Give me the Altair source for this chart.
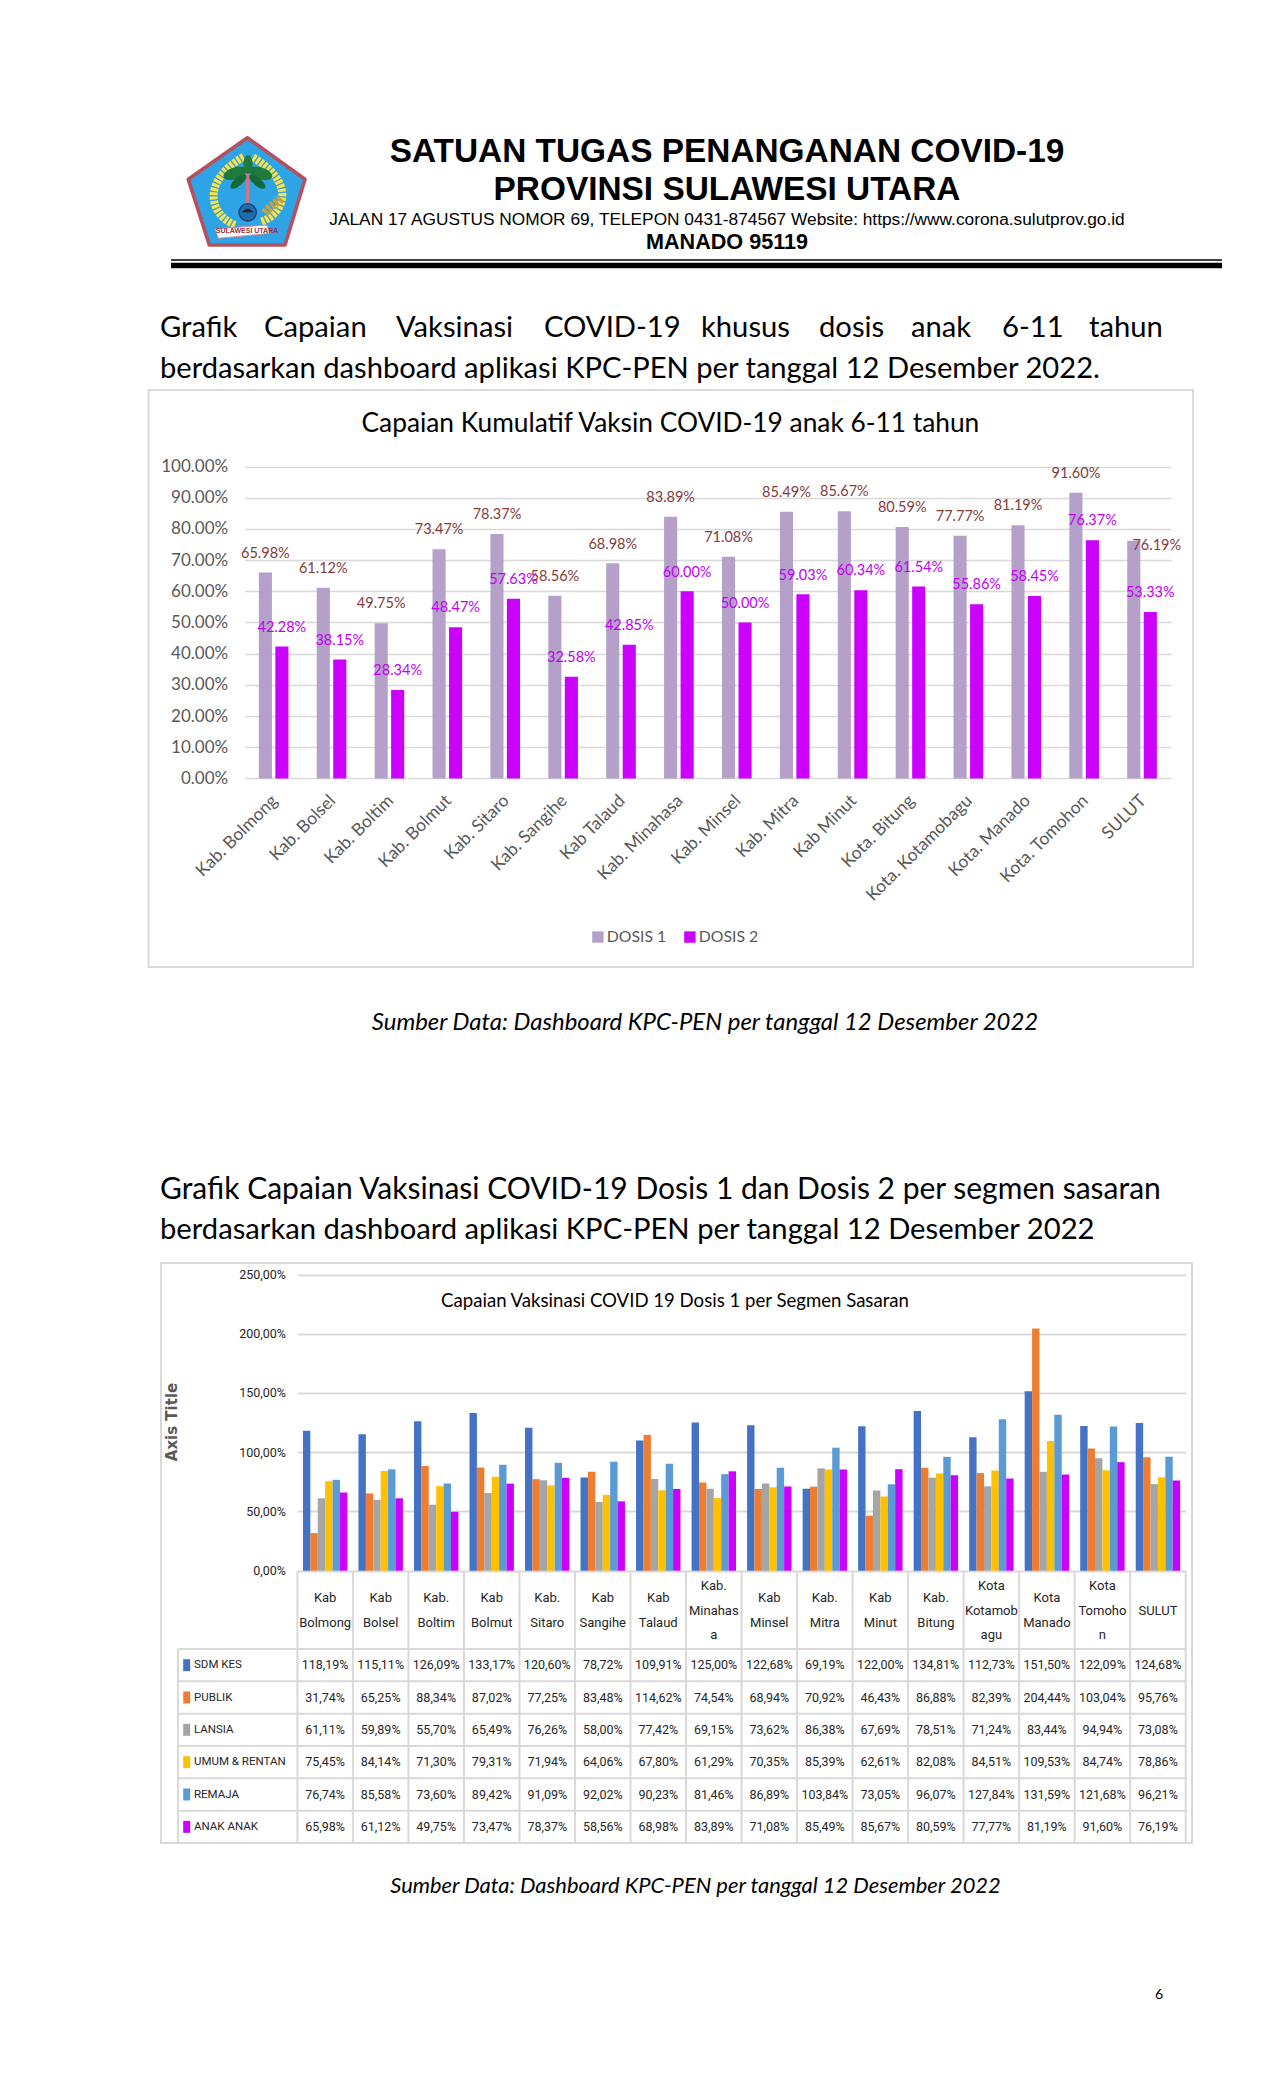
import urllib.parse
import altair as alt
import pandas as pd

# ---------- data ----------
CITIES = ["Kab. Bolmong","Kab. Bolsel","Kab. Boltim","Kab. Bolmut","Kab. Sitaro","Kab. Sangihe","Kab Talaud","Kab. Minahasa","Kab. Minsel","Kab. Mitra","Kab Minut","Kota. Bitung","Kota. Kotamobagu","Kota. Manado","Kota. Tomohon","SULUT"]
DOSIS1 = [65.98,61.12,49.75,73.47,78.37,58.56,68.98,83.89,71.08,85.49,85.67,80.59,77.77,81.19,91.60,76.19]
DOSIS2 = [42.28,38.15,28.34,48.47,57.63,32.58,42.85,60.00,50.00,59.03,60.34,61.54,55.86,58.45,76.37,53.33]

HEADERS = ["Kab\nBolmong","Kab\nBolsel","Kab.\nBoltim","Kab\nBolmut","Kab.\nSitaro","Kab\nSangihe","Kab\nTalaud","Kab.\nMinahas\na","Kab\nMinsel","Kab.\nMitra","Kab\nMinut","Kab.\nBitung","Kota\nKotamob\nagu","Kota\nManado","Kota\nTomoho\nn","SULUT"]
SEGMENTS = ["SDM KES","PUBLIK","LANSIA","UMUM & RENTAN","REMAJA","ANAK ANAK"]
SDM = [118.19,115.11,126.09,133.17,120.60,78.72,109.91,125.00,122.68,69.19,122.00,134.81,112.73,151.50,122.09,124.68]
PUBLIK = [31.74,65.25,88.34,87.02,77.25,83.48,114.62,74.54,68.94,70.92,46.43,86.88,82.39,204.44,103.04,95.76]
LANSIA = [61.11,59.89,55.70,65.49,76.26,58.00,77.42,69.15,73.62,86.38,67.69,78.51,71.24,83.44,94.94,73.08]
UMUM = [75.45,84.14,71.30,79.31,71.94,64.06,67.80,61.29,70.35,85.39,62.61,82.08,84.51,109.53,84.74,78.86]
REMAJA = [76.74,85.58,73.60,89.42,91.09,92.02,90.23,81.46,86.89,103.84,73.05,96.07,127.84,131.59,121.68,96.21]
ANAK = [65.98,61.12,49.75,73.47,78.37,58.56,68.98,83.89,71.08,85.49,85.67,80.59,77.77,81.19,91.60,76.19]
SEG_COLORS = ["#4472C4","#ED7D31","#A5A5A5","#FFC000","#5B9BD5","#CC00FF"]

W = 1259
BODY = "Lato"
NARROW = "Roboto"
HEAD = "Liberation Sans"
GRID = "#d9d9d9"
BLANK = alt.Data(values=[{"a": 1}])


def txt(s, x, y, size, font=BODY, color="#000000", align="center", weight="normal", style="normal", angle=0):
    kw = dict(angle=angle) if angle else {}
    return alt.Chart(BLANK).mark_text(text=s, font=font, fontSize=size, color=color, align=align, baseline="middle",
                                      fontWeight=weight, fontStyle=style, **kw).encode(x=alt.value(x), y=alt.value(y))


def frame(x0, x1, y0, y1):
    return alt.Chart(BLANK).mark_rect(fill="#ffffff", fillOpacity=0, stroke=GRID, strokeWidth=2).encode(
        x=alt.value(x0), x2=alt.value(x1), y=alt.value(y0), y2=alt.value(y1))


def hline(x0, x1, y, w, color="#000000"):
    return alt.Chart(BLANK).mark_rule(color=color, strokeWidth=w).encode(x=alt.value(x0), x2=alt.value(x1), y=alt.value(y))


# ---------- header panel (page y 8..389) ----------
LOGO = """<svg xmlns='http://www.w3.org/2000/svg' viewBox='0 0 450 390'>
<polygon points='232,38 405,163 345,360 118,360 55,163' fill='#2ea3e6' stroke='#b5505f' stroke-width='11' stroke-linejoin='round'/>
<path d='M195,300 C120,270 90,170 222,95' fill='none' stroke='#ffe345' stroke-width='24' stroke-dasharray='9 4'/>
<path d='M275,290 C350,260 375,170 245,95' fill='none' stroke='#ffe345' stroke-width='24' stroke-dasharray='9 4'/>
<path d='M285,265 C300,240 325,235 335,215' fill='none' stroke='#c9a13a' stroke-width='26' stroke-dasharray='10 4'/>
<line x1='233' y1='255' x2='233' y2='130' stroke='#d9737f' stroke-width='9'/>
<ellipse cx='195' cy='145' rx='36' ry='18' fill='#1f7a3c' transform='rotate(-18 195 145)'/>
<ellipse cx='272' cy='145' rx='36' ry='18' fill='#1f7a3c' transform='rotate(18 272 145)'/>
<ellipse cx='234' cy='118' rx='14' ry='28' fill='#1f7a3c'/>
<ellipse cx='205' cy='170' rx='30' ry='12' fill='#17693a' transform='rotate(-40 205 170)'/>
<ellipse cx='262' cy='170' rx='30' ry='12' fill='#17693a' transform='rotate(40 262 170)'/>
<circle cx='233' cy='262' r='26' fill='#1e6fae' stroke='#123f7a' stroke-width='4'/>
<path d='M215,262 Q233,240 251,262 Z' fill='#222'/>
<polygon points='135,312 290,300 300,325 145,340' fill='#ffffff' stroke='#d98b96' stroke-width='3'/>
</svg>"""
logo = alt.Chart(BLANK).mark_image(url="data:image/svg+xml;utf8," + urllib.parse.quote(LOGO.replace("\n", "")),
                                   width=150, height=130).encode(x=alt.value(245 - 8), y=alt.value(190 - 8))

WORDS1 = ["Grafik","Capaian","Vaksinasi","COVID-19","khusus","dosis","anak","6-11","tahun"]
WORDS1_X = [160,264,396,544,701,819,911,1002,1089]
panelA = alt.layer(
    logo,
    txt("SULAWESI UTARA", 247 - 8, 231 - 8, 7, font=HEAD, color="#a03040", weight="bold"),
    txt("SATUAN TUGAS PENANGANAN COVID-19", 727 - 8, 152 - 8, 33.4, font=HEAD, weight="bold"),
    txt("PROVINSI SULAWESI UTARA", 727 - 8, 190 - 8, 33.4, font=HEAD, weight="bold"),
    txt("JALAN 17  AGUSTUS  NOMOR 69,  TELEPON  0431-874567  Website: https://www.corona.sulutprov.go.id", 727 - 8, 220 - 8, 17.3, font=HEAD),
    txt("MANADO  95119", 727 - 8, 243 - 8, 21.6, font=HEAD, weight="bold"),
    hline(171 - 8, 1222 - 8, 260 - 8, 1.5),
    hline(171 - 8, 1222 - 8, 265.5 - 8, 5.5),
    *[txt(w, x - 8, 328 - 8, 29.2, align="left") for w, x in zip(WORDS1, WORDS1_X)],
    txt("berdasarkan dashboard aplikasi KPC-PEN per tanggal 12 Desember 2022.", 160 - 8, 369 - 8, 29.15, align="left"),
).properties(width=W, height=381)

# ---------- chart 1 (page y 389..967) ----------
TOP1 = 389
H1 = 578
BASE1 = 778.4
df1 = pd.DataFrame({"city": CITIES * 2, "dosis": ["DOSIS 1"] * 16 + ["DOSIS 2"] * 16, "v": DOSIS1 + DOSIS2})
df1["label"] = df1["v"].map(lambda v: f"{v:.2f}%")
x1 = alt.Scale(domain=CITIES, range=[244.7 - 8, 1171 - 8], padding=0)
xo1 = alt.XOffset("dosis:N", scale=alt.Scale(domain=["DOSIS 1", "DOSIS 2"], paddingInner=0.206, paddingOuter=0.857))
y1 = alt.Scale(domain=[0, 100], range=[BASE1 - TOP1, 466.5 - TOP1])
bars1 = alt.Chart(df1).mark_bar().encode(
    x=alt.X("city:N", scale=x1, sort=None, title=None,
            axis=alt.Axis(orient="bottom", offset=-(H1 - (BASE1 - TOP1)), domain=False, ticks=False, labelAngle=315,
                          labelFont=BODY, labelFontSize=17.5, labelColor="#595959", labelPadding=13, labelOffset=-5,
                          labelOverlap=False, labelLimit=300)),
    xOffset=xo1,
    y=alt.Y("v:Q", scale=y1, title=None,
            axis=alt.Axis(orient="left", offset=-(244.7 - 8), values=list(range(0, 101, 10)), labelExpr="format(datum.value,'.2f')+'%'",
                          domain=False, ticks=False, grid=True, gridColor=GRID, gridWidth=1.6, labelPadding=17,
                          labelFont=BODY, labelFontSize=17, labelColor="#595959")),
    color=alt.Color("dosis:N", scale=alt.Scale(domain=["DOSIS 1", "DOSIS 2"], range=["#B4A0C8", "#CC00FF"]),
                    legend=alt.Legend(orient="none", legendX=590 - 8, legendY=929 - TOP1, direction="horizontal", columns=2, title=None,
                                      symbolType="square", symbolSize=130, symbolStrokeWidth=0, labelFont=BODY, labelFontSize=15.8,
                                      labelColor="#595959", labelOffset=1, columnPadding=15)),
)
def labels1(test, color, dx=0, dy=-18.75):
    return alt.Chart(df1).transform_filter(test).mark_text(
        font=BODY, fontSize=14.5, color=color, dx=dx, dy=dy, baseline="middle").encode(
        x=alt.X("city:N", scale=x1, sort=None), xOffset=xo1, y=alt.Y("v:Q", scale=y1), text="label:N")
panelB = alt.layer(
    frame(148.5 - 8, 1193 - 8, 1, H1), bars1,
    labels1("datum.dosis == 'DOSIS 1' && datum.city != 'SULUT'", "#843C3C"),
    labels1("datum.dosis == 'DOSIS 1' && datum.city == 'SULUT'", "#843C3C", dx=23, dy=5),
    labels1("datum.dosis == 'DOSIS 2'", "#C000F0"),
    txt("Capaian Kumulatif Vaksin COVID-19 anak 6-11 tahun", 670.4 - 8, 423.7 - TOP1, 26.3),
).properties(width=W, height=H1)

# ---------- middle text (page y 967..1262) ----------
TOPC = 967
panelC = alt.layer(
    txt("Sumber Data: Dashboard KPC-PEN per tanggal 12 Desember 2022", 705 - 8, 1022.5 - TOPC, 23.9, style="italic"),
    txt("Grafik Capaian Vaksinasi COVID-19 Dosis 1 dan Dosis 2 per segmen sasaran", 160 - 8, 1190 - TOPC, 30, align="left"),
    txt("berdasarkan dashboard aplikasi KPC-PEN per tanggal 12 Desember 2022", 160 - 8, 1230 - TOPC, 29.2, align="left"),
).properties(width=W, height=295)

# ---------- chart 2 with table (page y 1262..1844) ----------
TOP2 = 1262
KEYS = [h.replace("\n", " ") for h in HEADERS]
VALUES = [SDM, PUBLIK, LANSIA, UMUM, REMAJA, ANAK]
rows = []
for seg, vals in zip(SEGMENTS, VALUES):
    for key, v in zip(KEYS, vals):
        rows.append({"col": key, "seg": seg, "v": v, "label": f"{v:.2f}".replace(".", ",") + "%"})
df2 = pd.DataFrame(rows)
x2 = alt.Scale(domain=KEYS, range=[297.4 - 8, 1185.7 - 8], padding=0)
X2 = alt.X("col:N", scale=x2, sort=None, title=None, axis=None)
xo2 = alt.XOffset("seg:N", scale=alt.Scale(domain=SEGMENTS, paddingInner=0, paddingOuter=0.75))
color2 = alt.Color("seg:N", scale=alt.Scale(domain=SEGMENTS, range=SEG_COLORS), legend=None)
y2 = alt.Scale(domain=[0, 250], range=[1570.7 - TOP2, 1274.5 - TOP2])
rowY = alt.Scale(domain=SEGMENTS, range=[1649 - TOP2, 1843 - TOP2], paddingInner=0, paddingOuter=0)

bars2 = alt.Chart(df2).mark_bar().encode(
    x=X2, xOffset=xo2, color=color2,
    y=alt.Y("v:Q", scale=y2, title=None,
            axis=alt.Axis(orient="left", offset=-(297.4 - 8), values=[0, 50, 100, 150, 200, 250],
                          labelExpr="replace(format(datum.value,'.2f'),'.',',')+'%'", domain=False, ticks=False, grid=True,
                          gridColor=GRID, gridWidth=2.2, labelPadding=12, labelFont=NARROW, labelFontSize=12.5, labelColor="#262626")),
)
seg_df = pd.DataFrame({"seg": SEGMENTS})
col_df = pd.DataFrame({"col": KEYS})
last_seg = seg_df.tail(1)
last_col = col_df.tail(1)
hlines = alt.Chart(seg_df).mark_rule(color=GRID, strokeWidth=2).encode(
    y=alt.Y("seg:N", scale=rowY, sort=None, bandPosition=0, axis=None, title=None), x=alt.value(178 - 8), x2=alt.value(1185.7 - 8))
hlast = alt.Chart(last_seg).mark_rule(color=GRID, strokeWidth=2).encode(
    y=alt.Y("seg:N", scale=rowY, sort=None, bandPosition=1, axis=None, title=None), x=alt.value(178 - 8), x2=alt.value(1185.7 - 8))
vlines = alt.Chart(col_df).mark_rule(color=GRID, strokeWidth=2).encode(
    x=alt.X("col:N", scale=x2, sort=None, bandPosition=0, axis=None, title=None), y=alt.value(1571 - TOP2), y2=alt.value(1843 - TOP2))
vlast = alt.Chart(last_col).mark_rule(color=GRID, strokeWidth=2).encode(
    x=alt.X("col:N", scale=x2, sort=None, bandPosition=1, axis=None, title=None), y=alt.value(1571 - TOP2), y2=alt.value(1843 - TOP2))
vleft = alt.Chart(BLANK).mark_rule(color=GRID, strokeWidth=2).encode(x=alt.value(178 - 8), y=alt.value(1649 - TOP2), y2=alt.value(1843 - TOP2))

cells = alt.Chart(df2).mark_text(font=NARROW, fontSize=12.5, color="#262626", baseline="middle").encode(
    x=X2, y=alt.Y("seg:N", scale=rowY, sort=None, axis=None, title=None), text="label:N")
keys = alt.Chart(seg_df).mark_rect(width=7, height=12).encode(
    x=alt.value(186.7 - 8), y=alt.Y("seg:N", scale=rowY, sort=None, axis=None, title=None), color=color2)
seg_names = alt.Chart(seg_df).mark_text(font=NARROW, fontSize=11.5, color="#262626", align="left", baseline="middle").encode(
    x=alt.value(194 - 8), y=alt.Y("seg:N", scale=rowY, sort=None, axis=None, title=None), text="seg:N")

# column headers, one layer per line position
HEAD_MID = 1610.5 - TOP2
LINE_H = 24.5
head_layers = []
for n in (1, 2, 3):
    for i in range(n):
        part = [{"col": k, "t": h.split("\n")[i]} for k, h in zip(KEYS, HEADERS) if h.count("\n") + 1 == n]
        if part:
            head_layers.append(alt.Chart(alt.Data(values=part)).mark_text(
                font=NARROW, fontSize=13, color="#262626", baseline="middle").encode(
                x=X2, y=alt.value(HEAD_MID + (i - (n - 1) / 2) * LINE_H), text="t:N"))

panelD = alt.layer(
    frame(161 - 8, 1192 - 8, 1, 581), bars2, hlines, hlast, vlines, vlast, vleft, keys, seg_names, cells, *head_layers,
    txt("Capaian Vaksinasi COVID 19 Dosis 1 per Segmen Sasaran", 675 - 8, 1300.5 - TOP2, 18.6),
    txt("Axis Title", 172 - 8, 1422 - TOP2, 15, font="DejaVu Sans", color="#595959", weight="bold", angle=270),
).resolve_scale(y="independent").properties(width=W, height=582)

# ---------- bottom text (page y 1844..2092) ----------
panelE = alt.layer(
    txt("Sumber Data: Dashboard KPC-PEN per tanggal 12 Desember 2022", 695.5 - 8, 1886 - 1844, 21.9, style="italic"),
    txt("6", 1159 - 8, 1995 - 1844, 14),
).properties(width=W, height=248)

chart = alt.vconcat(panelA, panelB, panelC, panelD, panelE, spacing=0, bounds="flush").resolve_scale(
    color="independent", xOffset="independent", x="independent", y="independent"
).properties(padding=0, background="#ffffff").configure_view(stroke=None)

chart.save("out.html", embed_options={"renderer": "svg", "actions": False})
